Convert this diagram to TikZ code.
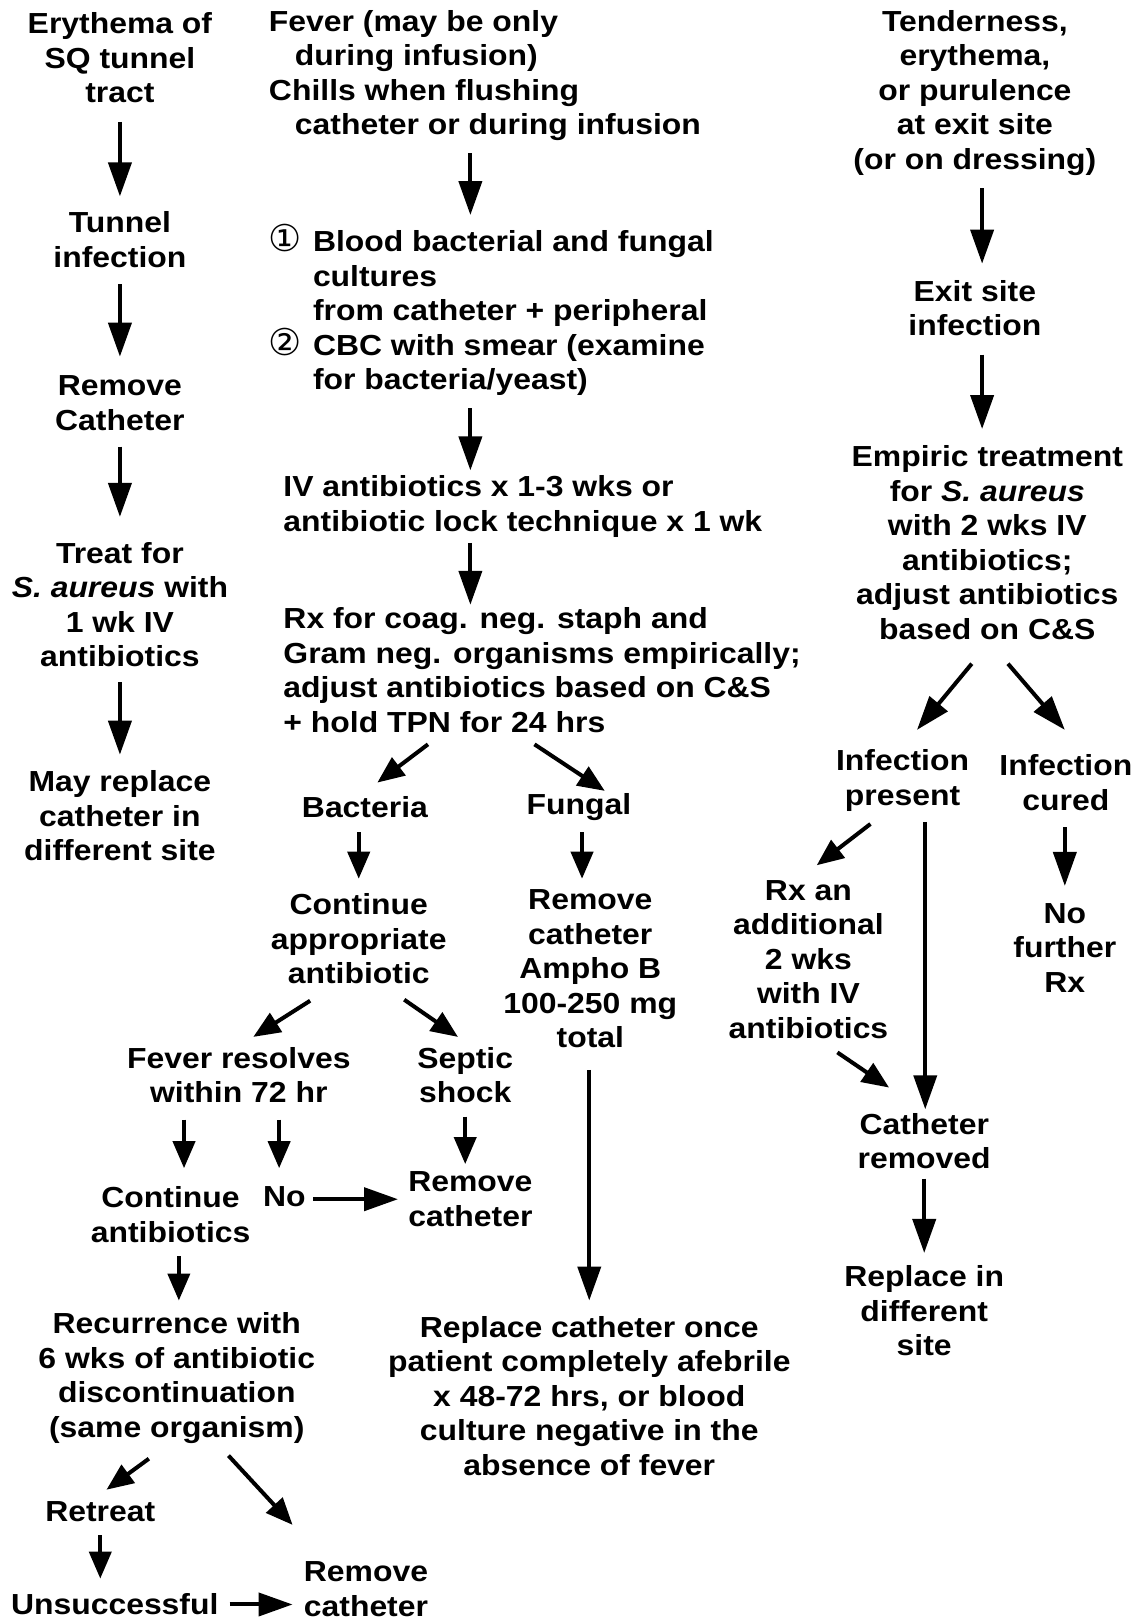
\documentclass[tikz,border=0pt]{standalone}
\usepackage{fontspec}
\setmainfont{Liberation Sans}[FakeStretch=1.1]
\newfontfamily\dejavu{DejaVu Sans}
\usetikzlibrary{arrows.meta,calc}
\newcommand{\circnum}[1]{\makebox[44pt][l]{\dejavu\mdseries\fontsize{37}{34.5}\selectfont #1}}
\begin{document}
\begin{tikzpicture}[x=1.0336pt,y=-1.0336pt,
  txt/.style={font=\bfseries\fontsize{29}{34.5}\selectfont, align=center, inner sep=0pt},
  txtl/.style={txt, align=left, anchor=west},
  arr/.style={line width=4pt, -{Triangle[length=34pt,width=23pt]}},
  arrs/.style={line width=4pt, -{Triangle[length=27pt,width=22pt]}}]
\fill[white] (0,0) rectangle (1101,1568);
\useasboundingbox (0,0) rectangle (1101,1568);

% left column
\node[txt] (L1) at (116,56) {Erythema of\\SQ tunnel\\tract};
\node[txt] (L2) at (116,232) {Tunnel\\infection};
\node[txt] (L3) at (116,390) {Remove\\Catheter};
\node[txt] (L4) at (116,585) {Treat for\\\textit{S. aureus} with\\1 wk IV\\antibiotics};
\node[txt] (L5) at (116,789) {May replace\\catheter in\\different site};

% middle column
\node[txtl] (M1) at (260,73) {Fever (may be only\\\hspace*{26pt}during infusion)\\Chills when flushing\\\hspace*{26pt}catheter or during infusion};
\node[txtl] (M2) at (260,300) {\circnum{①}Blood bacterial and fungal\\\hspace*{44pt}cultures\\\hspace*{44pt}from catheter + peripheral\\\circnum{②}CBC with smear (examine\\\hspace*{44pt}for bacteria/yeast)};
\node[txtl] (M3) at (274,490) {IV antibiotics x 1-3 wks or\\antibiotic lock technique x 1 wk};
\node[txtl] (M4) at (274,648) {Rx for coag. neg. staph and\\Gram neg. organisms empirically;\\adjust antibiotics based on C\&S\\+ hold TPN for 24 hrs};
\node[txt] (B) at (353,781) {Bacteria};
\node[txt] (F) at (560,781) {Fungal};
\node[txt] (C) at (347,908) {Continue\\appropriate\\antibiotic};
\node[txt] (RA) at (571,937) {Remove\\catheter\\Ampho B\\100-250 mg\\total};
\node[txt] (FR) at (231,1040) {Fever resolves\\within 72 hr};
\node[txt] (SS) at (450,1040) {Septic\\shock};
\node[txt] (CA) at (165,1175) {Continue\\antibiotics};
\node[txt] (NO) at (275,1158) {No};
\node[txt] (RC1) at (455,1160) {Remove\\catheter};
\node[txt] (REC) at (171,1333) {Recurrence with\\6 wks of antibiotic\\discontinuation\\(same organism)};
\node[txt] (RET) at (97,1462) {Retreat};
\node[txt] (UN) at (111,1552) {Unsuccessful};
\node[txt] (RC2) at (354,1537) {Remove\\catheter};
\node[txt] (REP) at (570,1350) {Replace catheter once\\patient completely afebrile\\x 48-72 hrs, or blood\\culture negative in the\\absence of fever};

% right column
\node[txt] (R1) at (943,90) {Tenderness,\\erythema,\\or purulence\\at exit site\\(or on dressing)};
\node[txt] (R2) at (943,298) {Exit site\\infection};
\node[txt] (R3) at (955,525) {Empiric treatment\\for \textit{S. aureus}\\with 2 wks IV\\antibiotics;\\adjust antibiotics\\based on C\&S};
\node[txt] (IP) at (873,755) {Infection\\present};
\node[txt] (IC) at (1031,757) {Infection\\cured};
\node[txt] (NF) at (1030,917) {No\\further\\Rx};
\node[txt] (RX) at (782,928) {Rx an\\additional\\2 wks\\with IV\\antibiotics};
\node[txt] (CR) at (894,1104) {Catheter\\removed};
\node[txt] (RD) at (894,1268) {Replace in\\different\\site};

% arrows left
\draw[arr] ($(L1.center)+(0,62)$) -- ($(L2.center)+(0,-42)$);
\draw[arr] ($(L2.center)+(0,43)$) -- ($(L3.center)+(0,-45)$);
\draw[arr] ($(L3.center)+(0,42)$) -- ($(L4.center)+(0,-85)$);
\draw[arr] ($(L4.center)+(0,75)$) -- ($(L5.center)+(0,-59)$);

% arrows middle
\draw[arr] ($(M1.west)+(195,75)$) -- ($(M2.west)+(195,-92)$);
\draw[arr] ($(M2.west)+(195,95)$) -- ($(M3.west)+(181,-35)$);
\draw[arr] ($(M3.west)+(181,35)$) -- ($(M4.west)+(181,-63)$);
\draw[arrs] ($(M4.west)+(140,72)$) -- ($(B.center)+(12,-24)$);
\draw[arrs] ($(M4.west)+(243,72)$) -- ($(F.center)+(25,-16)$);
\draw[arrs] ($(B.center)+(-6,24)$) -- ($(C.center)+(0,-58)$);
\draw[arrs] ($(F.center)+(3,24)$) -- ($(RA.center)+(-8,-87)$);
\draw[arrs] ($(C.center)+(-47,60)$) -- ($(FR.center)+(14,-37)$);
\draw[arrs] ($(C.center)+(44,59)$) -- ($(SS.center)+(-7,-37)$);
\draw[arrs] ($(FR.center)+(-53,43)$) -- ($(CA.center)+(13,-45)$);
\draw[arrs] ($(FR.center)+(39,43)$) -- ($(NO.center)+(-5,-28)$);
\draw[arrs] ($(SS.center)+(0,40)$) -- ($(RC1.center)+(-5,-34)$);
\draw[arr] ($(NO.center)+(28,2)$) -- ($(RC1.center)+(-70,0)$);
\draw[arrs] ($(CA.center)+(8,40)$) -- ($(REC.center)+(2,-75)$);
\draw[arrs] ($(REC.center)+(-27,78)$) -- ($(RET.center)+(6,-21)$);
\draw[arrs] ($(REC.center)+(50,75)$) -- ($(RC2.center)+(-71,-62)$);
\draw[arrs] ($(RET.center)+(0,23)$) -- ($(UN.center)+(-14,-25)$);
\draw[arr] ($(UN.center)+(111,0)$) -- ($(RC2.center)+(-71,15)$);
\draw[arr] ($(RA.center)+(-1,98)$) -- ($(REP.center)+(0,-92)$);

% arrows right
\draw[arr] ($(R1.center)+(7,92)$) -- ($(R2.center)+(7,-43)$);
\draw[arr] ($(R2.center)+(7,45)$) -- ($(R3.center)+(-5,-110)$);
\draw[arr] ($(R3.center)+(-15,117)$) -- ($(IP.center)+(14,-49)$);
\draw[arr] ($(R3.center)+(20,117)$) -- ($(IC.center)+(-1,-51)$);
\draw[arrs] ($(IP.center)+(-31,42)$) -- ($(RX.center)+(8,-91)$);
\draw[arr] ($(IP.center)+(22,40)$) -- ($(CR.center)+(1,-31)$);
\draw[arr] ($(IC.center)+(-1,43)$) -- ($(NF.center)+(0,-60)$);
\draw[arrs] ($(RX.center)+(28,90)$) -- ($(CR.center)+(-34,-52)$);
\draw[arr] ($(CR.center)+(0,36)$) -- ($(RD.center)+(0,-56)$);
\end{tikzpicture}
\end{document}
